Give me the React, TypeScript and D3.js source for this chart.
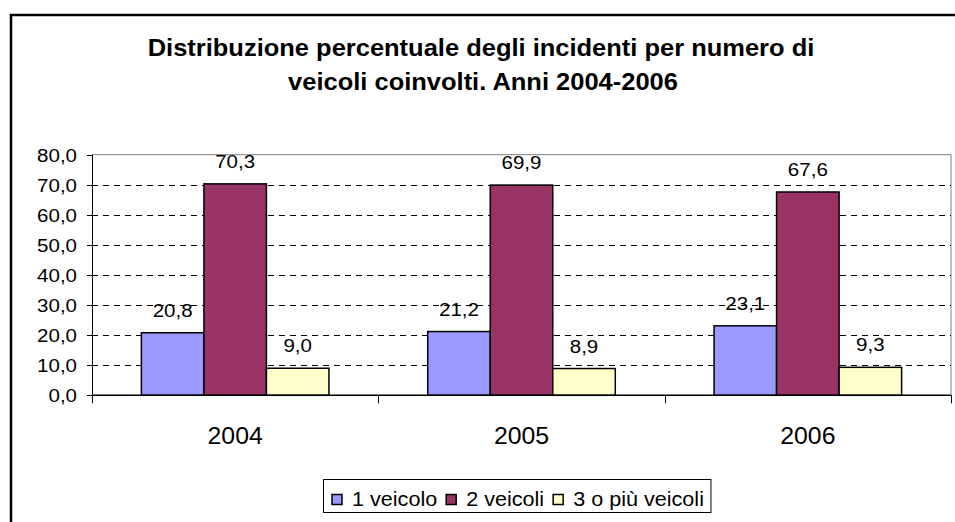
import React, { useEffect, useRef } from 'react';
import * as d3 from 'd3';

const years = ['2004', '2005', '2006'];
const seriesNames = ['1 veicolo', '2 veicoli', '3 o più veicoli'];
const unVeicolo = [20.8, 21.2, 23.1];
const dueVeicoli = [70.3, 69.9, 67.6];
const treOPiu = [9.0, 8.9, 9.3];
const yTicks = [0, 10, 20, 30, 40, 50, 60, 70, 80];
const colors = ['#9999FF', '#993366', '#FFFFCC'];

const W = 955;
const H = 522;
const PLOT = { left: 92, right: 951, top: 154.7, bottom: 395.3 };
// the reference is a bit stretched sideways, so text is too
const SX = 1.08;
const FONT = '"Liberation Sans", Arial, sans-serif';

const fmt = (v: number) => v.toFixed(1).replace('.', ',');

const App: React.FC = () => {
  const svgRef = useRef<SVGSVGElement>(null);

  useEffect(() => {
    if (!svgRef.current) return;
    const svg = d3.select(svgRef.current);
    svg.selectAll('*').remove();

    const values = [unVeicolo, dueVeicoli, treOPiu];

    const txt = (x: number, y: number, s: string, size: number, anchor = 'middle', weight = 'normal') =>
      svg.append('text')
        .attr('transform', `translate(${x},${y}) scale(${SX},1)`)
        .attr('text-anchor', anchor)
        .attr('font-family', FONT)
        .attr('font-size', size)
        .attr('font-weight', weight)
        .attr('fill', '#000')
        .text(s);

    // chart frame
    svg.append('rect')
      .attr('x', 11).attr('y', 15)
      .attr('width', W + 20).attr('height', H + 20)
      .attr('fill', '#fff')
      .attr('stroke', '#000')
      .attr('stroke-width', 2.5);

    // title
    txt(481, 56, 'Distribuzione percentuale degli incidenti per numero di', 23.6, 'middle', 'bold');
    txt(483, 90, 'veicoli coinvolti. Anni 2004-2006', 23.6, 'middle', 'bold');

    const y = d3.scaleLinear().domain([0, 80]).range([PLOT.bottom, PLOT.top]);
    const x0 = d3.scaleBand<string>().domain(years).range([PLOT.left, PLOT.right]).padding(0);
    const x1 = d3.scaleBand<string>().domain(seriesNames)
      .range([0, x0.bandwidth()]).paddingInner(0).paddingOuter(0.79);

    // plot border (top + right)
    svg.append('path')
      .attr('d', `M${PLOT.left},${y(80)}H${PLOT.right}V${PLOT.bottom}`)
      .attr('fill', 'none')
      .attr('stroke', '#808080')
      .attr('stroke-width', 1);

    // dashed gridlines
    yTicks.filter(t => t > 0 && t < 80).forEach(t => {
      svg.append('line')
        .attr('x1', PLOT.left).attr('x2', PLOT.right)
        .attr('y1', Math.round(y(t)) + 0.5).attr('y2', Math.round(y(t)) + 0.5)
        .attr('stroke', '#000')
        .attr('stroke-dasharray', '6,5');
    });

    // y axis
    svg.append('line')
      .attr('x1', PLOT.left + 0.5).attr('x2', PLOT.left + 0.5)
      .attr('y1', y(80)).attr('y2', PLOT.bottom)
      .attr('stroke', '#000');
    yTicks.forEach(t => {
      svg.append('line')
        .attr('x1', PLOT.left - 5).attr('x2', PLOT.left)
        .attr('y1', Math.round(y(t)) + 0.5).attr('y2', Math.round(y(t)) + 0.5)
        .attr('stroke', '#000');
      txt(77, y(t) + 7, fmt(t), 19, 'end');
    });

    // bars
    years.forEach((yr, i) => {
      seriesNames.forEach((s, j) => {
        const v = values[j][i];
        const bx = (x0(yr) ?? 0) + (x1(s) ?? 0);
        svg.append('rect')
          .attr('x', bx)
          .attr('y', y(v))
          .attr('width', x1.bandwidth())
          .attr('height', PLOT.bottom - y(v))
          .attr('fill', colors[j])
          .attr('stroke', '#000')
          .attr('stroke-width', 1.5);
        txt(bx + x1.bandwidth() / 2, y(v) - 16, fmt(v), 19);
      });
    });

    // category axis
    svg.append('line')
      .attr('x1', PLOT.left).attr('x2', PLOT.right)
      .attr('y1', PLOT.bottom).attr('y2', PLOT.bottom)
      .attr('stroke', '#000')
      .attr('stroke-width', 1.5);
    const bounds = [...years.map(yr => x0(yr) ?? 0), PLOT.right];
    bounds.forEach(bx => {
      svg.append('line')
        .attr('x1', Math.round(bx) + 0.5).attr('x2', Math.round(bx) + 0.5)
        .attr('y1', PLOT.bottom).attr('y2', PLOT.bottom + 8)
        .attr('stroke', '#000');
    });
    years.forEach(yr => {
      txt((x0(yr) ?? 0) + x0.bandwidth() / 2, 444, yr, 23);
    });

    // legend
    const lg = svg.append('g');
    const box = lg.append('rect')
      .attr('fill', '#fff')
      .attr('stroke', '#000')
      .attr('stroke-width', 1);
    let cx = 332;
    seriesNames.forEach((s, j) => {
      lg.append('rect')
        .attr('x', cx).attr('y', 494.5)
        .attr('width', 10).attr('height', 10)
        .attr('fill', colors[j])
        .attr('stroke', '#000')
        .attr('stroke-width', 1.5);
      const t = lg.append('text')
        .attr('transform', `translate(${cx + 20},${506}) scale(${SX},1)`)
        .attr('font-family', FONT)
        .attr('font-size', 20)
        .text(s);
      const w = (t.node() as SVGTextElement).getComputedTextLength() * SX;
      cx += 20 + w + 9;
    });
    box.attr('x', 323.5).attr('y', 479.5).attr('width', cx - 323.5 - 2).attr('height', 33);
  }, []);

  return (
    <svg
      ref={svgRef}
      width={W}
      height={H}
      style={{ position: 'absolute', left: 0, top: 0, background: '#fff' }}
    />
  );
};

export default App;
